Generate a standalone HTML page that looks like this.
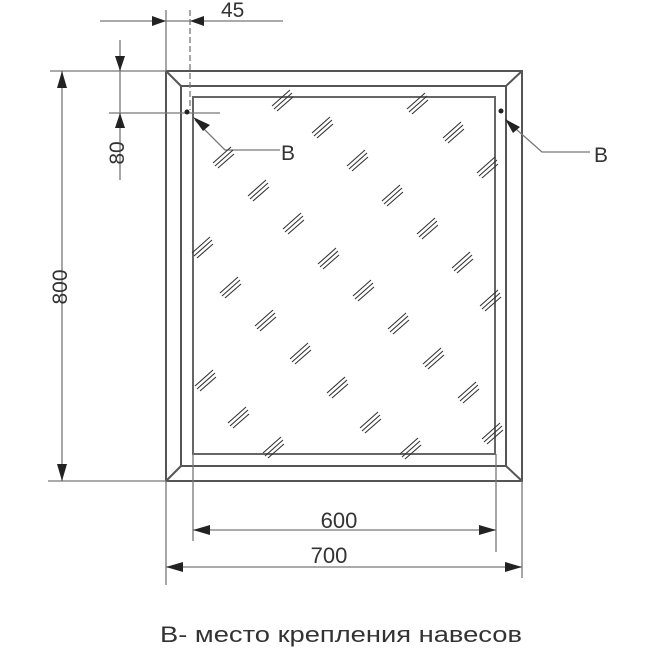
<!DOCTYPE html>
<html><head><meta charset="utf-8"><style>body{margin:0;background:#fff}svg{display:block}</style></head><body>
<svg width="650" height="650" viewBox="0 0 650 650" xmlns="http://www.w3.org/2000/svg">
<defs>
<g id="h" stroke="#333" stroke-width="1.1">
<line x1="-10" y1="6" x2="8" y2="-10"/>
<line x1="-8" y1="9" x2="10" y2="-7"/>
<line x1="-5" y1="11" x2="11" y2="-3"/>
</g>
</defs>
<g fill="none" stroke="#555" stroke-width="2">
<rect x="166" y="71" width="356" height="410"/>
<rect x="181" y="86" width="325" height="380"/>
<rect x="193" y="97" width="302" height="357" stroke="#666"/>
<line x1="166" y1="71" x2="181" y2="86"/><line x1="522" y1="71" x2="506" y2="86"/>
<line x1="166" y1="481" x2="181" y2="466"/><line x1="522" y1="481" x2="506" y2="466"/>
</g>
<g stroke="#777" stroke-width="1.3" fill="none">
<line x1="166" y1="10" x2="166" y2="71"/>
<line x1="190" y1="10" x2="190" y2="110" stroke-dasharray="6 3"/>
<line x1="100" y1="21" x2="283" y2="21"/>
<line x1="50" y1="71" x2="166" y2="71"/>
<line x1="48" y1="481" x2="166" y2="481"/>
<line x1="62" y1="71" x2="62" y2="481"/>
<line x1="120" y1="40" x2="120" y2="180"/>
<line x1="109" y1="113" x2="220" y2="113"/>
<line x1="166" y1="481" x2="166" y2="585"/>
<line x1="522" y1="481" x2="522" y2="578"/>
<line x1="193" y1="454" x2="193" y2="541"/>
<line x1="496" y1="454" x2="496" y2="552"/>
<line x1="193" y1="530" x2="496" y2="530"/>
<line x1="166" y1="567" x2="522" y2="567"/>
<polyline points="195,120 225,150 280,150"/>
<polyline points="508,122 542,152 590,152"/>
</g>
<g fill="#222">
<polygon points="166,21 152,16 152,26"/><polygon points="190,21 204,16 204,26"/>
<polygon points="120,71 115,56 125,56"/><polygon points="120,113 115,128 125,128"/>
<polygon points="62,71 57,88 67,88"/><polygon points="62,481 57,464 67,464"/>
<polygon points="193,530 210,525 210,535"/><polygon points="496,530 479,525 479,535"/>
<polygon points="166,567 183,562 183,572"/><polygon points="522,567 505,562 505,572"/>
<polygon points="193,117 210,125 203,131"/><polygon points="505,119 520,127 513,133"/>
<circle cx="187" cy="112" r="2.5"/><circle cx="501" cy="111" r="2.5"/>
</g>
<g>
<use href="#h" x="282" y="100"/><use href="#h" x="417" y="103"/>
<use href="#h" x="322" y="127"/><use href="#h" x="453" y="132"/>
<use href="#h" x="223" y="157"/><use href="#h" x="357" y="160"/><use href="#h" x="487" y="167"/>
<use href="#h" x="258" y="190"/><use href="#h" x="392" y="195"/>
<use href="#h" x="293" y="223"/><use href="#h" x="427" y="228"/>
<use href="#h" x="202" y="247"/><use href="#h" x="328" y="258"/><use href="#h" x="462" y="262"/>
<use href="#h" x="230" y="287"/><use href="#h" x="363" y="290"/><use href="#h" x="490" y="300"/>
<use href="#h" x="265" y="320"/><use href="#h" x="398" y="323"/>
<use href="#h" x="300" y="353"/><use href="#h" x="433" y="358"/>
<use href="#h" x="205" y="380"/><use href="#h" x="337" y="387"/><use href="#h" x="468" y="392"/>
<use href="#h" x="238" y="417"/><use href="#h" x="370" y="422"/><use href="#h" x="492" y="433"/>
<use href="#h" x="273" y="447"/><use href="#h" x="410" y="448"/>
</g>
<g font-family="Liberation Sans, sans-serif" font-size="21" fill="#333">
<text x="221" y="17">45</text>
<text x="0" y="0" transform="translate(124,153) rotate(-90)" text-anchor="middle">80</text>
<text x="0" y="0" transform="translate(67,287) rotate(-90)" text-anchor="middle">800</text>
<text x="339" y="528" text-anchor="middle" font-size="22">600</text>
<text x="329" y="563" text-anchor="middle" font-size="22">700</text>
<text x="281" y="160">В</text>
<text x="594" y="162">В</text>
<text x="160" y="642" font-size="22" textLength="362" lengthAdjust="spacingAndGlyphs">В- место крепления навесов</text>
</g>
</svg>
</body></html>
